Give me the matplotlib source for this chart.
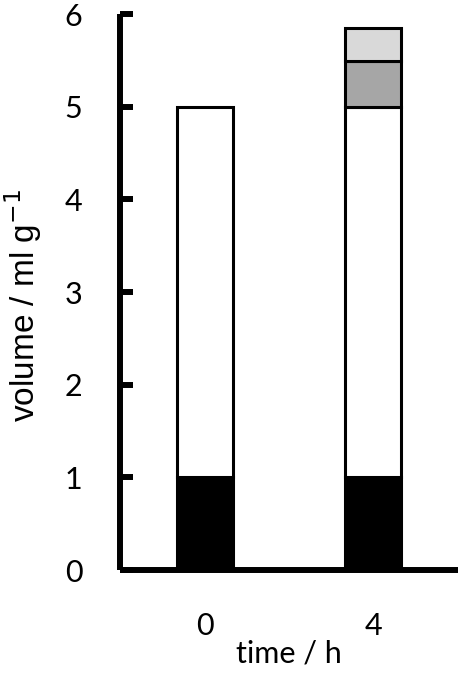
import matplotlib.pyplot as plt

# data
times = ['0', '4']
solid = [1.0, 1.0]
liquid = [4.0, 4.0]
dark_part = [0.0, 0.49]
light_part = [0.0, 0.36]

fig = plt.figure(figsize=(4.59, 6.78), dpi=100)
ax = fig.add_axes([120/459, 108/678, 338/459, 556/678])

x = range(len(times))
w = 56/168
lw = 2.2
ax.bar(x, solid, width=w, color='black', edgecolor='black', linewidth=lw)
ax.bar(x, liquid, width=w, bottom=solid, color='white', edgecolor='black', linewidth=lw)
b2 = [s + l for s, l in zip(solid, liquid)]
# only the 4 h bar has the grey parts
ax.bar([1], [dark_part[1]], width=w, bottom=[b2[1]], color='#a6a6a6', edgecolor='black', linewidth=lw)
b3 = b2[1] + dark_part[1]
ax.bar([1], [light_part[1]], width=w, bottom=[b3], color='#d9d9d9', edgecolor='black', linewidth=lw)

ax.set_xlim(-0.506, 1.506)
ax.set_ylim(0, 6)
ax.set_xticks(list(x))
ax.set_xticklabels(times)
ax.set_yticks(range(7))

for s in ['top', 'right']:
    ax.spines[s].set_visible(False)
for s in ['left', 'bottom']:
    ax.spines[s].set_linewidth(4.3)
    ax.spines[s].set_capstyle('butt')

ax.tick_params(axis='y', direction='in', length=9, width=4.3, pad=27, labelsize=22)
ax.tick_params(axis='x', length=0, pad=30, labelsize=22)
for t in ax.get_xticklabels() + ax.get_yticklabels():
    t.set_family(['Lato', 'DejaVu Sans'])

ax.set_xlabel('time / h', fontsize=22, family=['Lato', 'DejaVu Sans'], va='top')
ax.xaxis.set_label_coords(0.5, -0.125)
ax.set_ylabel('volume / ml g$^{-1}$', fontsize=24, family=['Liberation Sans', 'DejaVu Sans'])
ax.yaxis.set_label_coords(-0.225, 0.475)

fig.savefig('out.png', dpi=100)
